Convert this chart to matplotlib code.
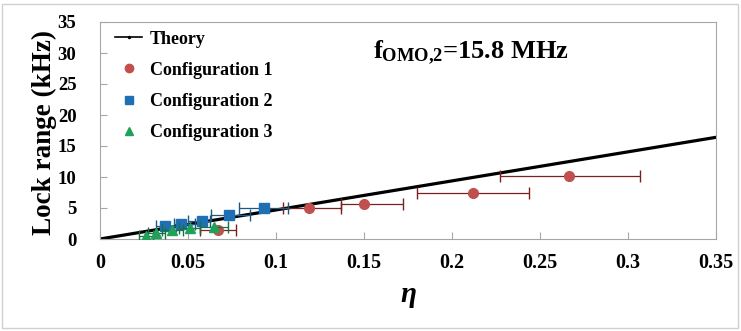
import matplotlib
matplotlib.use("Agg")
import matplotlib.pyplot as plt
from matplotlib.patches import Rectangle
from matplotlib.lines import Line2D

plt.rcParams['font.family'] = ['Liberation Serif', 'DejaVu Serif']
plt.rcParams['mathtext.fontset'] = 'custom'
plt.rcParams['mathtext.rm'] = 'Liberation Serif:bold'
plt.rcParams['mathtext.bf'] = 'Liberation Serif:bold'
plt.rcParams['mathtext.it'] = 'Liberation Serif:bold:italic'

# Theory line
eta_theory = [0.0, 0.35]
lr_theory = [0.0, 16.4]

# Configuration 1 (eta, lock range, x error low/high)
eta1 = [0.0668, 0.1188, 0.150, 0.2117, 0.2663]
lr1 = [1.45, 5.0, 5.7, 7.4, 10.2]
eta1_lo = [0.057, 0.104, 0.137, 0.180, 0.227]
eta1_hi = [0.077, 0.137, 0.172, 0.2437, 0.307]

# Configuration 2
eta2 = [0.0369, 0.0458, 0.0578, 0.0735, 0.0932]
lr2 = [2.1, 2.4, 2.9, 3.8, 4.95]
eta2_lo = [0.0318, 0.042, 0.050, 0.063, 0.079]
eta2_hi = [0.043, 0.054, 0.0625, 0.085, 0.107]

# Configuration 3
eta3 = [0.026, 0.032, 0.041, 0.051, 0.065]
lr3 = [0.5, 1.0, 1.45, 1.7, 1.9]
eta3_lo = [0.022, 0.027, 0.035, 0.045, 0.057]
eta3_hi = [0.030, 0.037, 0.047, 0.057, 0.073]

x_ticks = [0, 0.05, 0.1, 0.15, 0.2, 0.25, 0.3, 0.35]
x_tick_labels = ['0', '0.05', '0.1', '0.15', '0.2', '0.25', '0.3', '0.35']
y_ticks = [0, 5, 10, 15, 20, 25, 30, 35]

c1 = '#C0504D'
c2 = '#1F6FB4'
c3 = '#1FA15A'

def xerr(eta, lo, hi):
    return [[e - l for e, l in zip(eta, lo)], [h - e for e, h in zip(eta, hi)]]

fig = plt.figure(figsize=(7.41, 3.31), dpi=100)
ax = fig.add_axes([100/741, 1 - 239/331, 616/741, 217/331])

ax.plot(eta_theory, lr_theory, color='black', lw=2.3, zorder=2)
ax.errorbar(eta1, lr1, xerr=xerr(eta1, eta1_lo, eta1_hi), fmt='o', color=c1,
            ecolor='#7B2020', elinewidth=0.9, capsize=4, markersize=7, zorder=3)
ax.errorbar(eta2, lr2, xerr=xerr(eta2, eta2_lo, eta2_hi), fmt='s', color=c2,
            ecolor='#1A5A80', elinewidth=0.9, capsize=4, markersize=7, zorder=3)
ax.errorbar(eta3, lr3, xerr=xerr(eta3, eta3_lo, eta3_hi), fmt='^', color=c3,
            ecolor='#1A7040', elinewidth=0.9, capsize=4, markersize=7, zorder=4)

ax.set_xlim(0, 0.35)
ax.set_ylim(0, 35)
ax.set_xticks(x_ticks)
ax.set_xticklabels(x_tick_labels)
ax.set_yticks(y_ticks)
for s in ax.spines.values():
    s.set_color('#A6A6A6')
ax.tick_params(direction='in', color='#A6A6A6', length=5)
ax.tick_params(axis='x', pad=10, labelsize=14.5)
ax.tick_params(axis='y', pad=17, labelsize=13.5)
for lab in ax.get_xticklabels() + ax.get_yticklabels():
    lab.set_fontweight('bold')

ax.set_ylabel('Lock range (kHz)', fontsize=19.5, fontweight='bold')
ax.yaxis.set_label_coords(-0.07, 0.49)
ax.set_xlabel(r'$\mathit{\eta}$', fontsize=21, labelpad=8)

ax.text(0.155, 30.0, r'$\mathbf{f}_{\mathbf{OMO{,}2}}$=15.8 MHz', fontsize=19,
        fontweight='bold', va='center')

handles = [
    Line2D([], [], color='black', lw=1.2, marker='.', markersize=3),
    Line2D([], [], color=c1, lw=0, marker='o', markersize=6),
    Line2D([], [], color=c2, lw=0, marker='s', markersize=6),
    Line2D([], [], color=c3, lw=0, marker='^', markersize=6),
]
labels = ['Theory', 'Configuration 1', 'Configuration 2', 'Configuration 3']
ax.legend(handles, labels, loc='upper left', bbox_to_anchor=(0.025, 0.96),
          frameon=False, prop={'weight': 'bold', 'size': 13},
          handlelength=1.5, handletextpad=0.4, labelspacing=0.78,
          borderaxespad=0, borderpad=0)

fig.patches.append(Rectangle((2/741, 3/331), 736/741, 324/331, transform=fig.transFigure,
                             fill=False, edgecolor='#D0D0D0', lw=1))

fig.savefig('out.png', dpi=100)
